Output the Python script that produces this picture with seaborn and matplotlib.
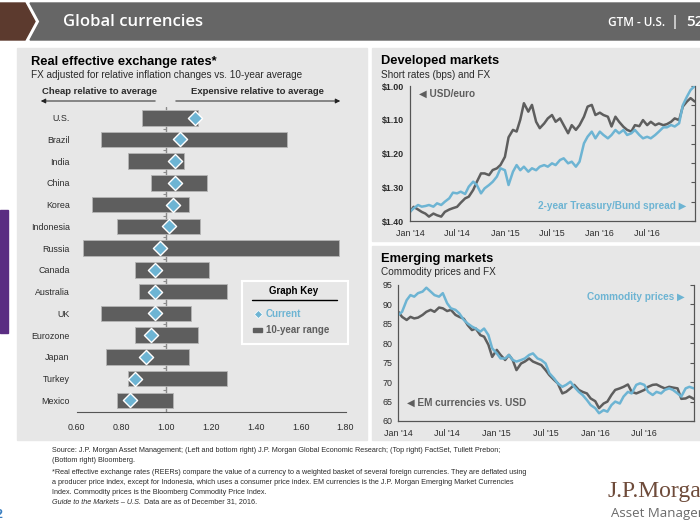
import numpy as np
import pandas as pd
import matplotlib
matplotlib.use("Agg")
import matplotlib.pyplot as plt
import matplotlib.dates as mdates
from matplotlib.patches import Rectangle, Polygon, FancyArrowPatch
from matplotlib.lines import Line2D
import seaborn as sns

# ---- left panel: real effective exchange rates ----
countries = ["U.S.", "Brazil", "India", "China", "Korea", "Indonesia", "Russia",
             "Canada", "Australia", "UK", "Eurozone", "Japan", "Turkey", "Mexico"]
range_low = [0.89, 0.71, 0.83, 0.93, 0.67, 0.78, 0.63, 0.86, 0.88, 0.71, 0.86, 0.73, 0.83, 0.78]
range_high = [1.14, 1.54, 1.08, 1.18, 1.10, 1.15, 1.77, 1.19, 1.27, 1.11, 1.14, 1.10, 1.27, 1.03]
current = [1.13, 1.06, 1.04, 1.04, 1.03, 1.01, 0.97, 0.95, 0.95, 0.95, 0.93, 0.91, 0.86, 0.84]
x_ticks = [0.60, 0.80, 1.00, 1.20, 1.40, 1.60, 1.80]

# ---- time series, sampled on the 1st and 15th of each month ----
dates = list(pd.date_range("2014-01-01", "2016-12-15", freq="SMS")) + [pd.Timestamp("2016-12-31")]
date_ticks = pd.to_datetime(["2014-01-01", "2014-07-01", "2015-01-01", "2015-07-01",
                             "2016-01-01", "2016-07-01"])

usd_euro = [1.373, 1.358, 1.366, 1.373, 1.378, 1.387, 1.378, 1.383, 1.387, 1.373, 1.366, 1.362,
            1.358, 1.346, 1.333, 1.328, 1.308, 1.284, 1.259, 1.259, 1.264, 1.249, 1.244, 1.234,
            1.210, 1.152, 1.130, 1.135, 1.100, 1.051, 1.076, 1.056, 1.106, 1.125, 1.111, 1.096,
            1.086, 1.106, 1.096, 1.116, 1.140, 1.116, 1.130, 1.116, 1.091, 1.061, 1.056, 1.086,
            1.079, 1.086, 1.091, 1.120, 1.091, 1.106, 1.121, 1.130, 1.135, 1.116, 1.119, 1.101,
            1.116, 1.106, 1.116, 1.111, 1.116, 1.113, 1.106, 1.096, 1.101, 1.061, 1.046, 1.036,
            1.046]
ust_bund_spread = [14.5, 19.7, 24.9, 22.3, 23.3, 24.9, 22.3, 27.5, 24.9, 30.0, 35.3, 44.1,
                   43.0, 45.6, 42.0, 53.4, 61.2, 56.0, 43.0, 50.8, 56.0, 61.0, 69.0, 82.0,
                   79.0, 56.0, 76.7, 87.0, 79.0, 84.5, 76.7, 82.0, 79.0, 84.5, 87.0, 84.5,
                   89.7, 87.0, 94.9, 97.5, 89.7, 92.3, 84.5, 92.3, 120.8, 131.2, 139.0, 128.6,
                   139.0, 133.8, 128.6, 133.8, 141.6, 136.4, 141.6, 133.8, 136.4, 141.6, 133.8, 128.6,
                   131.0, 128.6, 133.8, 139.0, 145.7, 145.7, 149.3, 147.0, 152.0, 180.0, 193.4, 203.8,
                   210.0]
em_fx = [88.1, 86.8, 86.0, 86.8, 86.4, 86.6, 87.3, 88.1, 88.6, 88.1, 89.2, 89.0,
         88.3, 88.6, 87.3, 86.8, 86.3, 84.7, 83.4, 83.8, 82.1, 81.7, 79.6, 76.5,
         78.3, 77.0, 75.7, 77.0, 75.7, 73.1, 74.8, 75.3, 76.1, 75.3, 74.8, 74.4,
         73.1, 71.8, 70.6, 69.7, 67.1, 67.5, 68.4, 69.3, 68.0, 67.5, 67.1, 65.8,
         65.1, 63.3, 64.5, 65.0, 66.7, 68.0, 68.4, 68.8, 69.4, 67.5, 67.1, 67.5,
         68.0, 68.8, 69.3, 69.4, 68.8, 68.4, 68.8, 68.6, 68.4, 65.7, 65.8, 66.3,
         65.7]
commodity = [87.3, 88.1, 91.1, 92.4, 92.0, 92.9, 93.3, 94.3, 93.3, 92.4, 92.0, 92.9,
             90.3, 89.0, 88.6, 87.7, 86.0, 85.1, 84.3, 83.8, 83.0, 83.8, 82.1, 78.7,
             77.4, 76.1, 76.1, 77.0, 75.7, 75.3, 75.7, 76.1, 77.0, 77.4, 76.1, 75.7,
             74.8, 72.3, 71.0, 69.7, 68.8, 69.3, 70.1, 68.8, 67.5, 66.7, 65.4, 64.1,
             63.3, 62.0, 62.8, 62.4, 64.1, 65.0, 64.5, 66.3, 67.5, 67.1, 69.3, 69.7,
             69.3, 67.5, 66.7, 67.5, 67.1, 68.0, 68.4, 68.0, 67.1, 66.3, 68.4, 68.8,
             68.4]

footer_lines = [
    "Source: J.P. Morgan Asset Management; (Left and bottom right) J.P. Morgan Global Economic Research; (Top right) FactSet, Tullett Prebon;",
    "(Bottom right) Bloomberg.",
    "*Real effective exchange rates (REERs) compare the value of a currency to a weighted basket of several foreign currencies. They are deflated using",
    "a producer price index, except for Indonesia, which uses a consumer price index. EM currencies is the J.P. Morgan Emerging Market Currencies",
    "Index. Commodity prices is the Bloomberg Commodity Price Index.",
]

sns.set_style("white")
plt.rcParams["font.family"] = ["Liberation Sans", "DejaVu Sans"]

GRAY = "#5e5e5e"
BLUE = "#6db4d3"
PANEL = "#e7e7e7"
TXT = "#2b2b2b"

W, H = 700, 525
fig = plt.figure(figsize=(7, 5.25), dpi=100)


def fx(x, y):
    return x / W, 1 - y / H


def box(x0, y0, x1, y1):
    return [x0 / W, 1 - y1 / H, (x1 - x0) / W, (y1 - y0) / H]


def rect(x0, y0, x1, y1, **kw):
    b = box(x0, y0, x1, y1)
    fig.add_artist(Rectangle((b[0], b[1]), b[2], b[3], transform=fig.transFigure, **kw))


# panels and header
rect(17, 48, 367, 440, color=PANEL, zorder=-10)
rect(372, 48, 700, 241, color=PANEL, zorder=-10)
rect(372, 246, 700, 440, color=PANEL, zorder=-10)
rect(0, 210, 8, 333, color="#5a2d82", zorder=-10)
fig.add_artist(Polygon([fx(0, 3), fx(25, 3), fx(35, 21.5), fx(25, 40), fx(0, 40)],
                       closed=True, transform=fig.transFigure, color="#5c3a2e", zorder=-9))
fig.add_artist(Polygon([fx(30, 3), fx(700, 3), fx(700, 40), fx(30, 40), fx(40, 21.5)],
                       closed=True, transform=fig.transFigure, color="#666666", zorder=-9))
fig.text(*fx(63, 22), "Global currencies", color="white", fontsize=12, va="center",
         family=["Open Sans", "DejaVu Sans"], fontweight="semibold")
fig.text(*fx(665, 22), "GTM - U.S.", color="white", fontsize=8.5, va="center", ha="right",
         family=["Open Sans", "DejaVu Sans"], fontweight="semibold")
fig.text(*fx(675, 22), "|", color="white", fontsize=11, va="center", ha="center")
fig.text(*fx(686, 22), "52", color="white", fontsize=11, va="center",
         family=["Open Sans", "DejaVu Sans"], fontweight="semibold")

# ---- left: REER ranges ----
fig.text(*fx(31, 61.5), "Real effective exchange rates*", fontsize=9.3, fontweight="bold",
         color="black", va="center")
fig.text(*fx(31, 74.5), "FX adjusted for relative inflation changes vs. 10-year average",
         fontsize=7.2, color=TXT, va="center")
fig.text(*fx(100, 92), "Cheap relative to average", fontsize=6.8, fontweight="bold",
         color=TXT, va="center", ha="center")
fig.text(*fx(257, 92), "Expensive relative to average", fontsize=6.8, fontweight="bold",
         color=TXT, va="center", ha="center")
arrow_kw = dict(arrowstyle="-|>", color="#222222", lw=0.7, mutation_scale=7)
fig.add_artist(FancyArrowPatch(fx(158, 101), fx(38, 101), transform=fig.transFigure, **arrow_kw))
fig.add_artist(FancyArrowPatch(fx(173, 101), fx(343, 101), transform=fig.transFigure, **arrow_kw))

ax = fig.add_axes(box(76.7, 106.8, 345.5, 411.7))
ax.set_facecolor("none")
pos = np.arange(len(countries))
low = np.array(range_low)
high = np.array(range_high)
ax.axvline(1.0, color="#8a8a8a", lw=1, zorder=0)
ax.hlines(pos[:-1] + 0.5, 0.985, 1.0, color="#8a8a8a", lw=0.8, zorder=0)
ax.barh(pos, high - low, left=low, height=0.72, color=GRAY, edgecolor="#b5b5b5",
        linewidth=0.6, zorder=2)
sns.scatterplot(x=current, y=pos, marker="D", s=52, color=BLUE, edgecolor="white",
                linewidth=1.0, ax=ax, zorder=5)
ax.set_xlim(0.6, 1.8)
ax.set_ylim(13.52, -0.5)
ax.set_yticks(pos, countries)
ax.set_xticks(x_ticks, [f"{v:.2f}" for v in x_ticks])
ax.tick_params(axis="y", length=0, pad=5, labelsize=6.4, labelcolor=TXT)
ax.tick_params(axis="x", length=4, direction="inout", width=0.8, color="#555555",
               labelsize=6.4, labelcolor=TXT, pad=6)
for s in ["top", "right", "left"]:
    ax.spines[s].set_visible(False)
ax.spines["bottom"].set_color("#555555")
ax.spines["bottom"].set_linewidth(0.8)
ax.set_xlabel("")
ax.set_ylabel("")

# graph key
rect(241.7, 280.7, 348.3, 344.3, facecolor="none", edgecolor="white", lw=1.5, zorder=3)
fig.text(*fx(294, 291.5), "Graph Key", fontsize=7, fontweight="bold", color="black",
         ha="center", va="center")
fig.add_artist(Line2D([252 / W, 337 / W], [1 - 299.5 / H] * 2, transform=fig.transFigure,
                      color="black", lw=1.0))
fig.add_artist(Line2D([257.7 / W], [1 - 313.5 / H], transform=fig.transFigure, marker="D",
                      markersize=4.5, color=BLUE, markeredgecolor="white", markeredgewidth=0.5))
fig.text(*fx(266, 314), "Current", fontsize=7, fontweight="bold", color=BLUE, va="center")
rect(253, 328, 262, 332, color=GRAY, zorder=3)
fig.text(*fx(266, 330), "10-year range", fontsize=7, fontweight="bold", color=GRAY, va="center")


def date_axis(a):
    a.set_xlim(pd.Timestamp("2014-01-01"), pd.Timestamp("2017-01-01"))
    a.set_xticks(date_ticks)
    a.xaxis.set_major_formatter(mdates.DateFormatter("%b '%y"))
    a.tick_params(axis="x", length=3, width=0.8, color="#555555", labelsize=6.4,
                  labelcolor=TXT, pad=3)


def style_spines(*axes):
    for a in axes:
        a.spines["top"].set_visible(False)
        for s in ["left", "right", "bottom"]:
            a.spines[s].set_color("#555555")
            a.spines[s].set_linewidth(0.8)
        a.set_xlabel("")
        a.set_ylabel("")


# ---- top right: developed markets ----
fig.text(*fx(381, 61), "Developed markets", fontsize=9.3, fontweight="bold", color="black",
         va="center")
fig.text(*fx(381, 74.5), "Short rates (bps) and FX", fontsize=7.2, color=TXT, va="center")
ax_dm = fig.add_axes(box(410, 86, 695, 221))
ax_dm.set_facecolor("none")
sns.lineplot(x=dates, y=usd_euro, ax=ax_dm, color=GRAY, lw=1.8)
ax_dm.set_ylim(1.40, 1.00)
ax_dm.set_yticks([1.0, 1.1, 1.2, 1.3, 1.4], ["$1.00", "$1.10", "$1.20", "$1.30", "$1.40"])
ax_dm.tick_params(axis="y", length=0, labelsize=6.4, labelcolor=TXT, pad=4)
for lab in ax_dm.get_yticklabels():
    lab.set_fontweight("bold")
ax_dm2 = ax_dm.twinx()
sns.lineplot(x=dates, y=ust_bund_spread, ax=ax_dm2, color=BLUE, lw=1.8)
ax_dm2.set_ylim(0, 210)
ax_dm2.set_yticks(range(0, 211, 30), [""] * 8)
ax_dm2.tick_params(axis="y", length=3, direction="in", color="#555555")
date_axis(ax_dm)
style_spines(ax_dm, ax_dm2)
ax_dm.text(0.03, 0.94, "◀ USD/euro", transform=ax_dm.transAxes, fontsize=7.2,
           fontweight="bold", color=GRAY, va="center")
ax_dm.text(0.97, 0.11, "2-year Treasury/Bund spread ▶", transform=ax_dm.transAxes,
           fontsize=7.2, fontweight="bold", color=BLUE, va="center", ha="right")

# ---- bottom right: emerging markets ----
fig.text(*fx(381, 259.5), "Emerging markets", fontsize=9.3, fontweight="bold", color="black",
         va="center")
fig.text(*fx(381, 272), "Commodity prices and FX", fontsize=7.2, color=TXT, va="center")
ax_em = fig.add_axes(box(398.3, 285, 694, 421))
ax_em.set_facecolor("none")
sns.lineplot(x=dates, y=em_fx, ax=ax_em, color=GRAY, lw=1.8)
ax_em.set_ylim(60, 95)
ax_em.set_yticks(range(60, 96, 5))
ax_em.tick_params(axis="y", length=0, labelsize=6.4, labelcolor=TXT, pad=4)
ax_em2 = ax_em.twinx()
sns.lineplot(x=dates, y=commodity, ax=ax_em2, color=BLUE, lw=1.8)
ax_em2.set_ylim(60, 95)
ax_em2.set_yticks(range(60, 96, 5), [""] * 8)
ax_em2.tick_params(axis="y", length=3, direction="in", color="#555555")
date_axis(ax_em)
style_spines(ax_em, ax_em2)
ax_em.text(0.97, 0.91, "Commodity prices ▶", transform=ax_em.transAxes, fontsize=7.2,
           fontweight="bold", color=BLUE, va="center", ha="right")
ax_em.text(0.03, 0.135, "◀ EM currencies vs. USD", transform=ax_em.transAxes, fontsize=7.2,
           fontweight="bold", color=GRAY, va="center")

# ---- footer ----
for line, y in zip(footer_lines, [451, 461, 472, 482, 492]):
    fig.text(*fx(52, y), line, fontsize=5.2, color=TXT, va="center")
guide = fig.text(*fx(52, 502), "Guide to the Markets – U.S.", fontsize=5.2, color=TXT,
                 va="center", style="italic")
renderer = fig.canvas.get_renderer()
gx = guide.get_window_extent(renderer).x1
fig.text(gx / W + 3 / W, 1 - 502 / H, "Data are as of December 31, 2016.", fontsize=5.2,
         color=TXT, va="center")
fig.text(*fx(-4, 515), "2", fontsize=9, color="#3a7fc1", va="center", fontweight="bold")
fig.text(*fx(608, 492), "J.P.Morgan", fontsize=17, color="#6e4b3a", va="center",
         family=["Liberation Serif", "DejaVu Serif"])
fig.text(*fx(611, 513), "Asset Management", fontsize=9.5, color="#6a6a6a", va="center",
         family=["Open Sans", "DejaVu Sans"])

fig.savefig("out.png", dpi=100)
